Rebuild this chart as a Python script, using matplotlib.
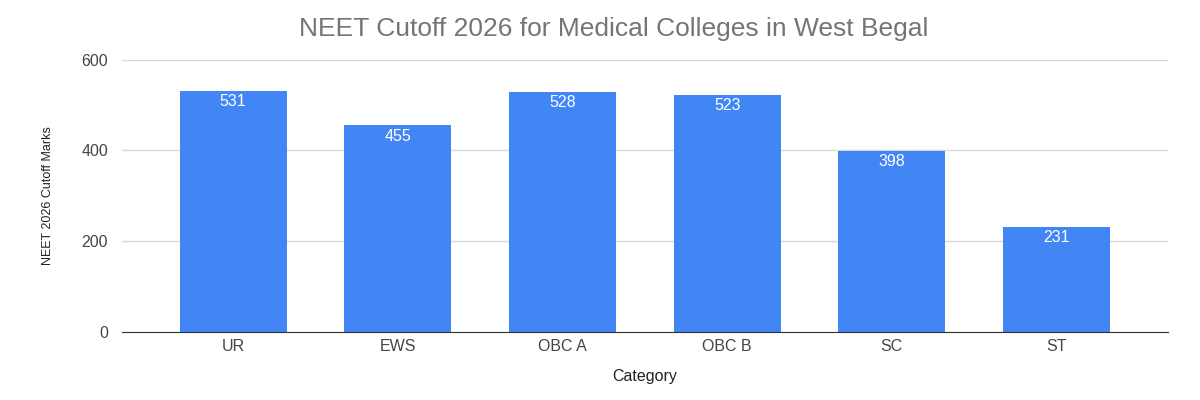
import matplotlib
matplotlib.use("Agg")
from matplotlib import pyplot as plt

# categories and cutoff marks
categories = ['UR', 'EWS', 'OBC A', 'OBC B', 'SC', 'ST']
cutoffs = [531, 455, 528, 523, 398, 231]
yticks = [0, 200, 400, 600]

plt.rcParams['font.family'] = ['Liberation Sans', 'DejaVu Sans']

fig = plt.figure(figsize=(12, 4), dpi=100)
ax = fig.add_axes([0.1017, 0.17, 0.8713, 0.681])

x = range(len(categories))
bars = ax.bar(x, cutoffs, width=0.65, color='#4285f4', zorder=2)

for b, v in zip(bars, cutoffs):
    ax.text(b.get_x() + b.get_width() / 2, v - 7, str(v), ha='center', va='top',
            color='white', fontsize=11.5)

ax.set_xlim(-0.675, 5.675)
ax.set_ylim(0, 600)
ax.set_yticks(yticks)
ax.set_xticks(list(x))
ax.set_xticklabels(categories)
ax.tick_params(length=0, labelsize=11.5, labelcolor='#444444')
ax.tick_params(axis='y', pad=10)
ax.tick_params(axis='x', pad=5)
ax.grid(axis='y', color='#d9d9d9', linewidth=1, zorder=0)

for s in ['top', 'right', 'left']:
    ax.spines[s].set_visible(False)
ax.spines['bottom'].set_color('#333333')
ax.spines['bottom'].set_zorder(3)

ax.set_xlabel('Category', fontsize=11.5, color='#222222', labelpad=11)
ax.set_ylabel('NEET 2026 Cutoff Marks', fontsize=9, color='#222222', labelpad=20)

fig.text(0.511, 0.927, 'NEET Cutoff 2026 for Medical Colleges in West Begal',
         ha='center', va='center', fontsize=19, color='#757575')

fig.savefig('out.png', dpi=100)
